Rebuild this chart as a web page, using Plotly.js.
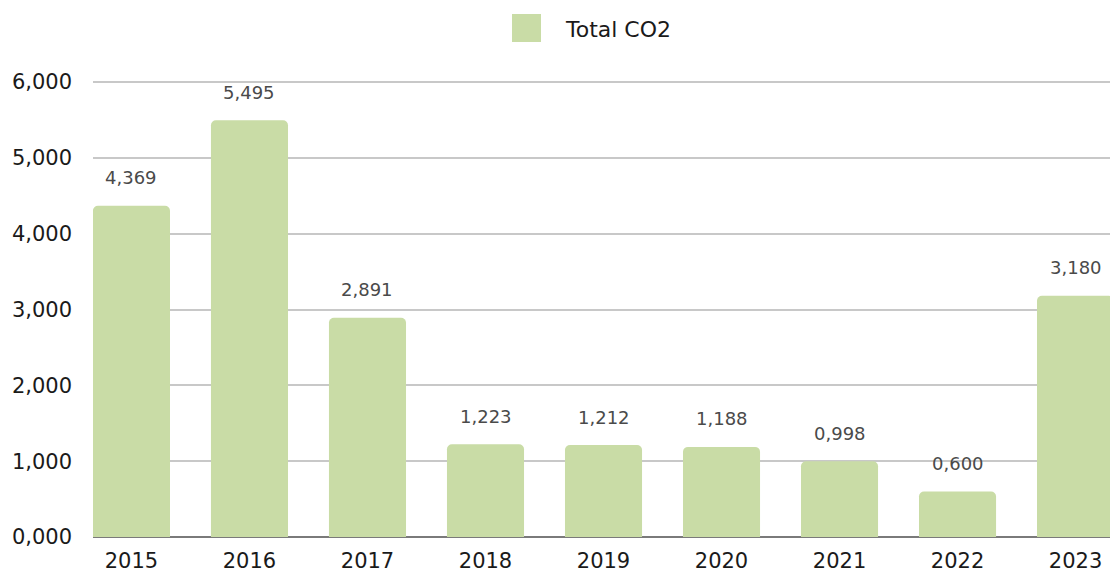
<!DOCTYPE html>
<html><head><meta charset="utf-8">
<script src="https://cdn.plot.ly/plotly-3.0.1.min.js"></script>
<style>html,body{margin:0;padding:0;background:#fff}#chart{width:1110px;height:572px}</style>
</head><body><div id="chart"></div>
<script>
const years = ['2015','2016','2017','2018','2019','2020','2021','2022','2023'];
const totalCO2 = [4.369, 5.495, 2.891, 1.223, 1.212, 1.188, 0.998, 0.600, 3.180];
const seriesName = 'Total CO2';
const yTicks = [0, 1, 2, 3, 4, 5, 6];

const FONT = 'DejaVu Sans, sans-serif';
const BAR = '#C9DCA6';

const fmt = v => v.toFixed(3).replace('.', ',');

const trace = {
  type: 'bar', x: years, y: totalCO2, name: seriesName,
  marker: {color: BAR, cornerradius: 5},
  hoverinfo: 'skip', showlegend: false
};

const annotations = years.map((yr, i) => ({
  x: i, y: totalCO2[i], xref: 'x', yref: 'y', text: fmt(totalCO2[i]),
  showarrow: false, yshift: 28, font: {family: FONT, size: 18, color: '#4a4a4a'}
}));
annotations.push({
  xref: 'paper', yref: 'paper', x: (563 - 93) / 1017, y: 1 + (78 - 29) / 459,
  xanchor: 'left', yanchor: 'middle', text: seriesName, showarrow: false,
  font: {family: FONT, size: 22, color: '#1a1a1a'}
});

const layout = {
  width: 1110, height: 572,
  margin: {l: 93, r: 0, t: 78, b: 35},
  paper_bgcolor: '#fff', plot_bgcolor: '#fff',
  separators: ',.',
  bargap: 0.347,
  font: {family: FONT, color: '#1a1a1a'},
  xaxis: {
    type: 'category', range: [-0.326, 8.292], showgrid: false, zeroline: false,
    showline: false, ticks: '', automargin: false, ticklabelstandoff: 9,
    tickfont: {family: FONT, size: 21, color: '#1a1a1a'}
  },
  yaxis: {
    range: [0, 6.0527], tickvals: yTicks, ticktext: yTicks.map(fmt),
    showgrid: true, gridcolor: '#c8c8c8', gridwidth: 2,
    zeroline: true, zerolinecolor: '#7a7a7a', zerolinewidth: 2,
    showline: false, ticks: '', ticklabelstandoff: 20, automargin: false,
    tickfont: {family: FONT, size: 21, color: '#1a1a1a'}
  },
  shapes: [{
    type: 'rect', xref: 'paper', yref: 'paper',
    x0: (512 - 93) / 1017, x1: (541 - 93) / 1017,
    y0: 1 + (78 - 42) / 459, y1: 1 + (78 - 14) / 459,
    fillcolor: BAR, line: {width: 0}
  }],
  annotations: annotations
};

Plotly.newPlot('chart', [trace], layout, {displayModeBar: false, staticPlot: true});
</script></body></html>
